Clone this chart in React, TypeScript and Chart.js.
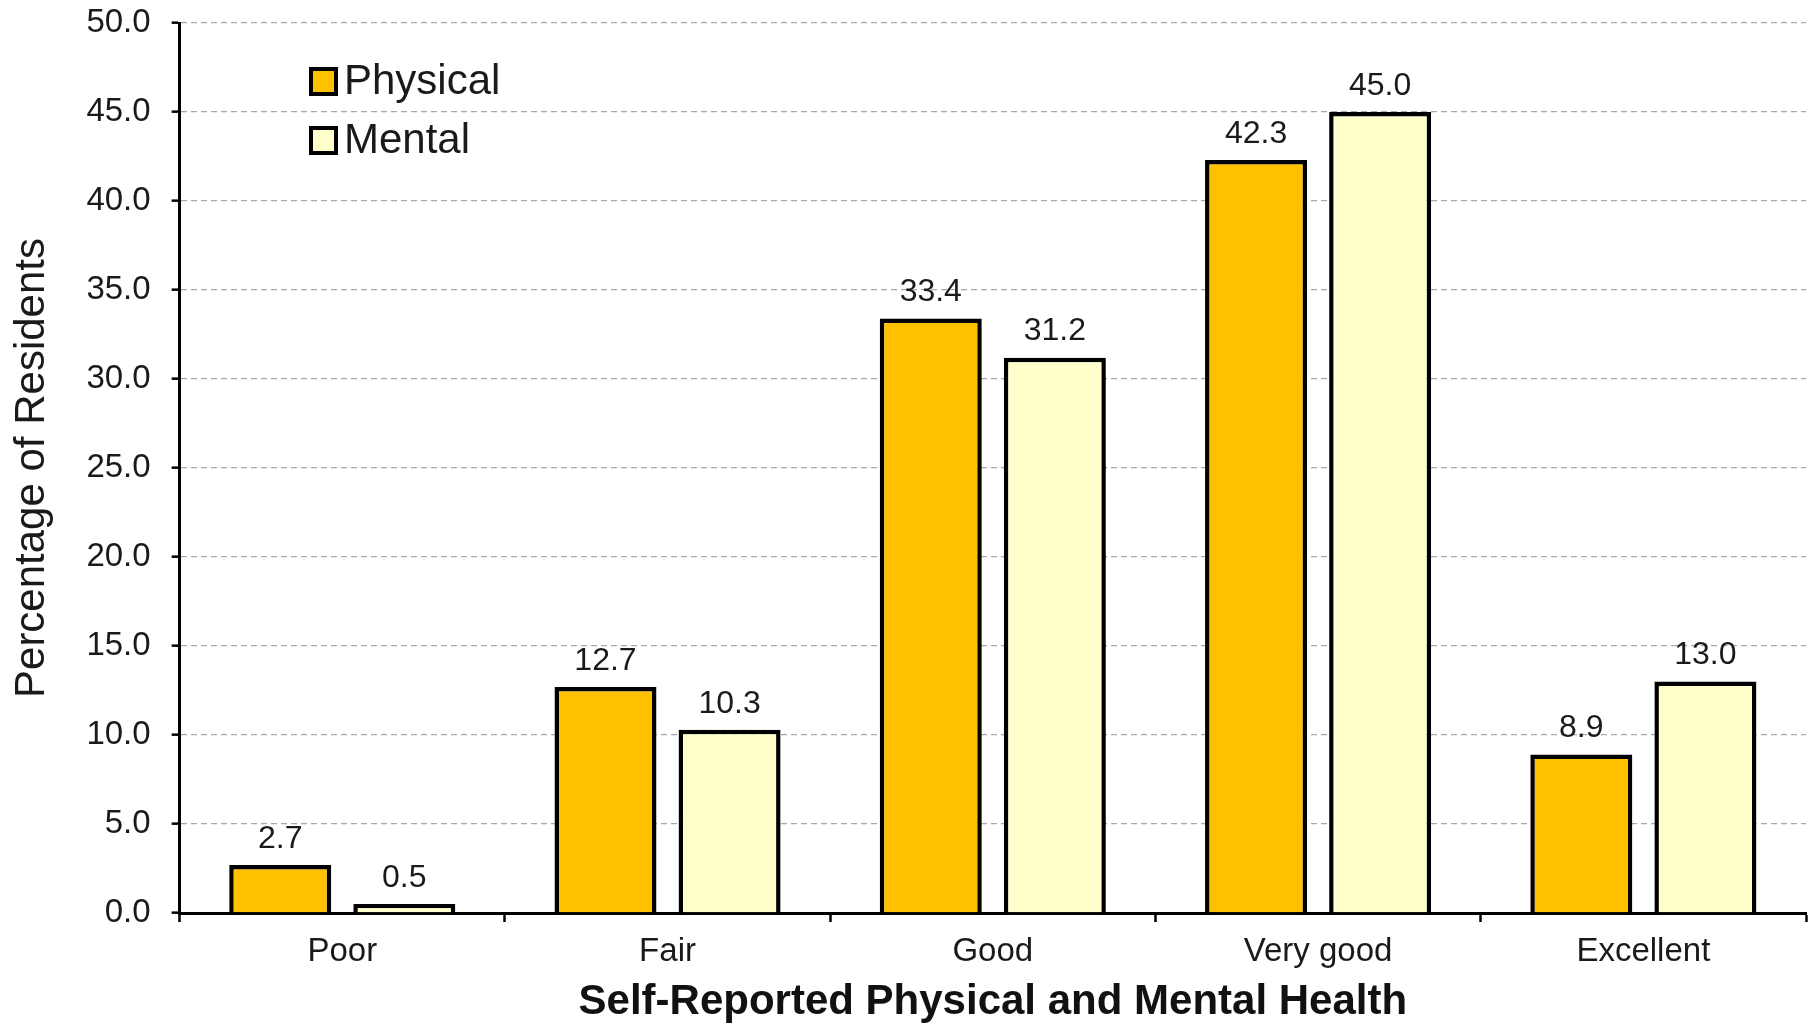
import React, { useEffect, useRef } from "react";
import { Chart, registerables } from "chart.js";

Chart.register(...registerables);

const categories = ["Poor", "Fair", "Good", "Very good", "Excellent"];
const physicalValues = [2.7, 12.7, 33.4, 42.3, 8.9];
const mentalValues = [0.5, 10.3, 31.2, 45.0, 13.0];
const seriesLabels = ["Physical", "Mental"];
const seriesColors = ["#FFC000", "#FFFFCC"];
const yTitle = "Percentage of Residents";
const xTitle = "Self-Reported Physical and Mental Health";

const FONT = "'Liberation Sans', Arial, Helvetica, sans-serif";

const dataLabelPlugin = {
  id: "dataLabels",
  afterDatasetsDraw(chart: any) {
    const ctx = chart.ctx;
    ctx.save();
    ctx.font = `32px ${FONT}`;
    ctx.fillStyle = "#1a1a1a";
    ctx.textAlign = "center";
    ctx.textBaseline = "bottom";
    chart.data.datasets.forEach((ds: any, i: number) => {
      const meta = chart.getDatasetMeta(i);
      meta.data.forEach((bar: any, j: number) => {
        const v = ds.data[j] as number;
        ctx.fillText(v.toFixed(1), bar.x, bar.y - 10);
      });
    });
    ctx.restore();
  },
};

const legendPlugin = {
  id: "insideLegend",
  afterDraw(chart: any) {
    const ctx = chart.ctx;
    ctx.save();
    const boxX = 311;
    const startY = 69;
    const step = 59;
    const size = 25;
    chart.data.datasets.forEach((ds: any, i: number) => {
      const y = startY + i * step;
      ctx.fillStyle = ds.backgroundColor;
      ctx.fillRect(boxX, y, size, size);
      ctx.lineWidth = 4;
      ctx.strokeStyle = "#000";
      ctx.strokeRect(boxX, y, size, size);
      ctx.font = `42px ${FONT}`;
      ctx.fillStyle = "#1a1a1a";
      ctx.textAlign = "left";
      ctx.textBaseline = "middle";
      ctx.fillText(ds.label, boxX + 33, y + size / 2 + 1);
    });
    ctx.restore();
  },
};

export default function App() {
  const canvasRef = useRef<HTMLCanvasElement | null>(null);

  useEffect(() => {
    if (!canvasRef.current) return;
    const chart = new Chart(canvasRef.current, {
      type: "bar",
      data: {
        labels: categories,
        datasets: [
          {
            label: seriesLabels[0],
            data: physicalValues,
            backgroundColor: seriesColors[0],
            borderColor: "#000",
            borderWidth: 4.5,
            categoryPercentage: 0.763,
            barPercentage: 0.822,
          },
          {
            label: seriesLabels[1],
            data: mentalValues,
            backgroundColor: seriesColors[1],
            borderColor: "#000",
            borderWidth: 4.5,
            categoryPercentage: 0.763,
            barPercentage: 0.822,
          },
        ],
      },
      options: {
        responsive: false,
        animation: false,
        devicePixelRatio: 1,
        layout: { padding: { left: 0, right: 12, top: 23, bottom: 0 } },
        plugins: {
          legend: { display: false },
          tooltip: { enabled: false },
        },
        scales: {
          x: {
            grid: {
              display: true,
              drawOnChartArea: false,
              drawTicks: true,
              tickLength: 9,
              tickColor: "#000",
              tickWidth: 2.5,
              offset: true,
            },
            border: { display: true, color: "#000", width: 3 },
            ticks: {
              color: "#1a1a1a",
              font: { family: FONT, size: 33, lineHeight: 1.06 },
              padding: 12,
            },
            title: {
              display: true,
              text: xTitle,
              color: "#111",
              font: { family: FONT, size: 42, weight: "bold", lineHeight: 1.0 },
              padding: { top: 0, bottom: 0 },
            },
          },
          y: {
            min: 0,
            max: 50,
            ticks: {
              stepSize: 5,
              color: "#1a1a1a",
              font: { family: FONT, size: 33, lineHeight: 0.1 },
              padding: 21,
              autoSkip: false,
              callback: (v: any) => Number(v).toFixed(1),
            },
            grid: {
              display: true,
              color: "#a8a8a8",
              lineWidth: 1.3,
              drawTicks: true,
              tickLength: 8,
              tickColor: "#000",
              tickWidth: 2.5,
              tickBorderDash: [],
            },
            border: { display: true, color: "#000", width: 3, dash: [6, 4] },
            title: {
              display: true,
              text: yTitle,
              color: "#1a1a1a",
              font: { family: FONT, size: 42 },
              padding: { top: 7, bottom: 8 },
            },
          },
        },
      },
      plugins: [dataLabelPlugin, legendPlugin],
    });
    return () => chart.destroy();
  }, []);

  return (
    <div style={{ position: "fixed", left: 0, top: 0, width: 1818, height: 1023, background: "#fff" }}>
      <canvas ref={canvasRef} width={1818} height={1023} style={{ width: 1818, height: 1023, display: "block" }} />
    </div>
  );
}
